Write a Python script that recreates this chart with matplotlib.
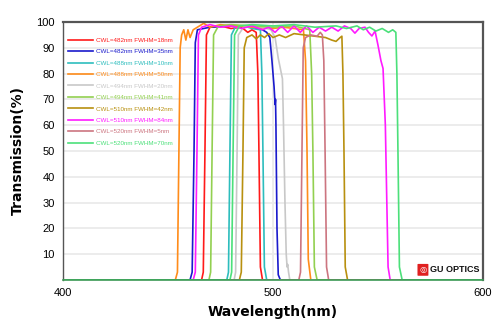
import matplotlib
matplotlib.use('Agg')
import matplotlib.pyplot as plt
from matplotlib.patches import FancyBboxPatch

# transmission curves (wavelength nm, transmission %)
wl_red = [400, 466, 466.8, 467.6, 468.3, 470, 475, 480, 485, 488, 490, 492, 492.8, 493.3, 494, 495, 600]
t_red = [0, 0, 3, 50, 95, 98, 98.5, 97.5, 98, 96, 97, 96, 80, 50, 5, 0, 0]

wl_blue = [400, 460.5, 461.5, 462.4, 463, 464, 470, 480, 490, 495, 497, 498.5, 499.5, 500.5, 501, 501.2, 501.4, 501.9, 502.5, 503.5, 600]
t_blue = [0, 0, 3, 50, 92, 97, 98, 98.5, 98, 97, 96, 94, 85, 75, 68, 70, 60, 20, 2, 0, 0]

wl_cyan = [400, 478, 478.8, 479.5, 480.2, 482, 486, 490, 494, 494.7, 495.2, 495.9, 497, 600]
t_cyan = [0, 0, 3, 50, 95, 98, 98.5, 97.5, 97, 80, 50, 5, 0, 0]

wl_orange = [400, 453.5, 454.5, 455.2, 455.8, 456.5, 457.5, 458.5, 459.5, 460.5, 462, 464, 467, 470,
             475, 480, 490, 500, 505, 510, 514.5, 515.5, 516.2, 516.8, 518, 600]
t_orange = [0, 0, 3, 50, 90, 95, 97, 93, 97, 94, 97, 98, 99.5, 98,
            99, 98.5, 98, 97.5, 98, 97.5, 97, 85, 50, 8, 0, 0]

wl_gray = [400, 481.5, 482.2, 482.9, 483.5, 486, 490, 495, 499, 501, 502.5, 503.5, 504.5, 505, 505.7,
           506.3, 506.7, 507, 507.4, 508, 600]
t_gray = [0, 0, 3, 50, 95, 98, 98.5, 98, 97, 94, 86, 82, 78, 60, 30,
          10, 5, 6, 3, 0, 0]

wl_lgreen = [400, 469.5, 470.3, 471, 471.7, 474, 480, 490, 500, 510, 517.5, 518.4, 519, 519.7, 521, 600]
t_lgreen = [0, 0, 3, 50, 95, 98.5, 99, 98.5, 98, 98.5, 97, 80, 50, 5, 0, 0]

wl_gold = [400, 484, 484.9, 485.7, 486.3, 487.5, 490, 492, 494, 496, 498, 500, 503, 506, 510, 515, 520,
           525, 528, 530, 532, 532.8, 533.3, 533.8, 534.4, 535.5, 600]
t_gold = [0, 0, 3, 50, 90, 94, 95, 93.5, 95, 94, 95.5, 94, 95, 94, 95.5, 95, 94.5,
          94, 93, 92.5, 94, 94.5, 80, 50, 5, 0, 0]

wl_magenta = [400, 462, 463, 463.8, 464.5, 466, 470, 475, 480, 485, 490, 495, 498, 501, 504, 507, 510,
              513, 516, 519, 522, 525, 528, 531, 534, 537, 539, 541, 543.8, 545.5, 547.1, 548.6, 550,
              551.4, 552.4, 553.5, 554.2, 554.8, 555.8, 600]
t_magenta = [0, 0, 3, 50, 95, 98, 99, 98, 98.5, 97.5, 98.5, 97, 98, 96, 98.5, 96, 98.5,
             96, 98.5, 96, 98, 96.5, 98, 96.5, 98.5, 97.5, 95.7, 97.5, 98, 96, 94.6, 96.5, 91,
             85, 82, 60, 30, 5, 0, 0]

wl_rose = [400, 512.3, 513.1, 513.8, 514.4, 515.5, 518, 521, 522.5, 523.5, 524.2, 524.8, 525.5, 526.5, 600]
t_rose = [0, 0, 3, 50, 90, 94, 95, 94.5, 96, 95, 85, 50, 5, 0, 0]

wl_sgreen = [400, 479.5, 480.3, 481, 481.7, 484, 490, 500, 510, 520, 530, 535, 540, 543, 546, 549, 552,
             555, 557, 558.5, 559, 559.5, 560.2, 561.5, 600]
t_sgreen = [0, 0, 3, 50, 95, 98.5, 99, 98.5, 99, 98, 98.5, 97.5, 98.5, 97, 98, 96.5, 97.5,
            96, 97, 96, 80, 50, 5, 0, 0]

labels = ['CWL=482nm FWHM=18nm', 'CWL=482nm FWHM=35nm', 'CWL=488nm FWHM=10nm',
          'CWL=488nm FWHM=50nm', 'CWL=494nm FWHM=20nm', 'CWL=494nm FWHM=41nm',
          'CWL=510nm FWHM=42nm', 'CWL=510nm FWHM=84nm', 'CWL=520nm FWHM=5nm',
          'CWL=520nm FWHM=70nm']
colors = ['#FF1A1A', '#1A1ACC', '#2DBDBD', '#FF8C1A', '#C8C8C8', '#92D050',
          '#B8900F', '#FF1AFF', '#CC7580', '#4CE07A']
curves = [(wl_red, t_red), (wl_blue, t_blue), (wl_cyan, t_cyan), (wl_orange, t_orange),
          (wl_gray, t_gray), (wl_lgreen, t_lgreen), (wl_gold, t_gold), (wl_magenta, t_magenta),
          (wl_rose, t_rose), (wl_sgreen, t_sgreen)]

plt.rcParams['font.family'] = ['Liberation Sans', 'DejaVu Sans']

fig = plt.figure(figsize=(5, 3.34), dpi=100)
ax = fig.add_axes([0.126, 0.162, 0.84, 0.772])

for (x, y), c, lab in zip(curves, colors, labels):
    ax.plot(x, y, color=c, lw=1.2, label=lab)

ax.set_xlim(400, 600)
ax.set_ylim(0, 100)
ax.set_xticks([400, 500, 600])
ax.set_yticks(range(10, 101, 10))
ax.tick_params(length=0, labelsize=8, pad=6)
ax.grid(True, color='#EBEBEB', lw=1.3)
ax.set_axisbelow(True)

for s in ['left', 'top', 'right']:
    ax.spines[s].set_color('#555555')
ax.spines['left'].set_linewidth(1.0)
ax.spines['top'].set_linewidth(1.6)
ax.spines['right'].set_linewidth(1.6)
ax.spines['bottom'].set_color('#3C9A55')
ax.spines['bottom'].set_linewidth(1.2)

ax.set_xlabel('Wavelength(nm)', fontsize=10, fontweight='bold', family='DejaVu Sans', labelpad=5)
ax.set_ylabel('Transmission(%)', fontsize=10, fontweight='bold', family='DejaVu Sans', labelpad=8)

leg = ax.legend(loc='upper left', bbox_to_anchor=(0.012, 0.94), frameon=False, fontsize=4.5,
                handlelength=4.0, handletextpad=0.4, labelspacing=0.97, borderaxespad=0,
                borderpad=0, labelcolor='linecolor')

# logo
logo = FancyBboxPatch((0.846, 0.018), 0.022, 0.042, boxstyle='round,pad=0.002',
                      transform=ax.transAxes, facecolor='#E02020', edgecolor='none', zorder=5)
ax.add_patch(logo)
ax.text(0.857, 0.039, '◎', transform=ax.transAxes, color='white', fontsize=6,
        ha='center', va='center', family='DejaVu Sans', fontweight='bold', zorder=6)
ax.text(0.874, 0.039, 'GU OPTICS', transform=ax.transAxes, fontsize=6.5, fontweight='bold',
        ha='left', va='center', color='#111111', zorder=6)

fig.savefig('out.png', dpi=100)
